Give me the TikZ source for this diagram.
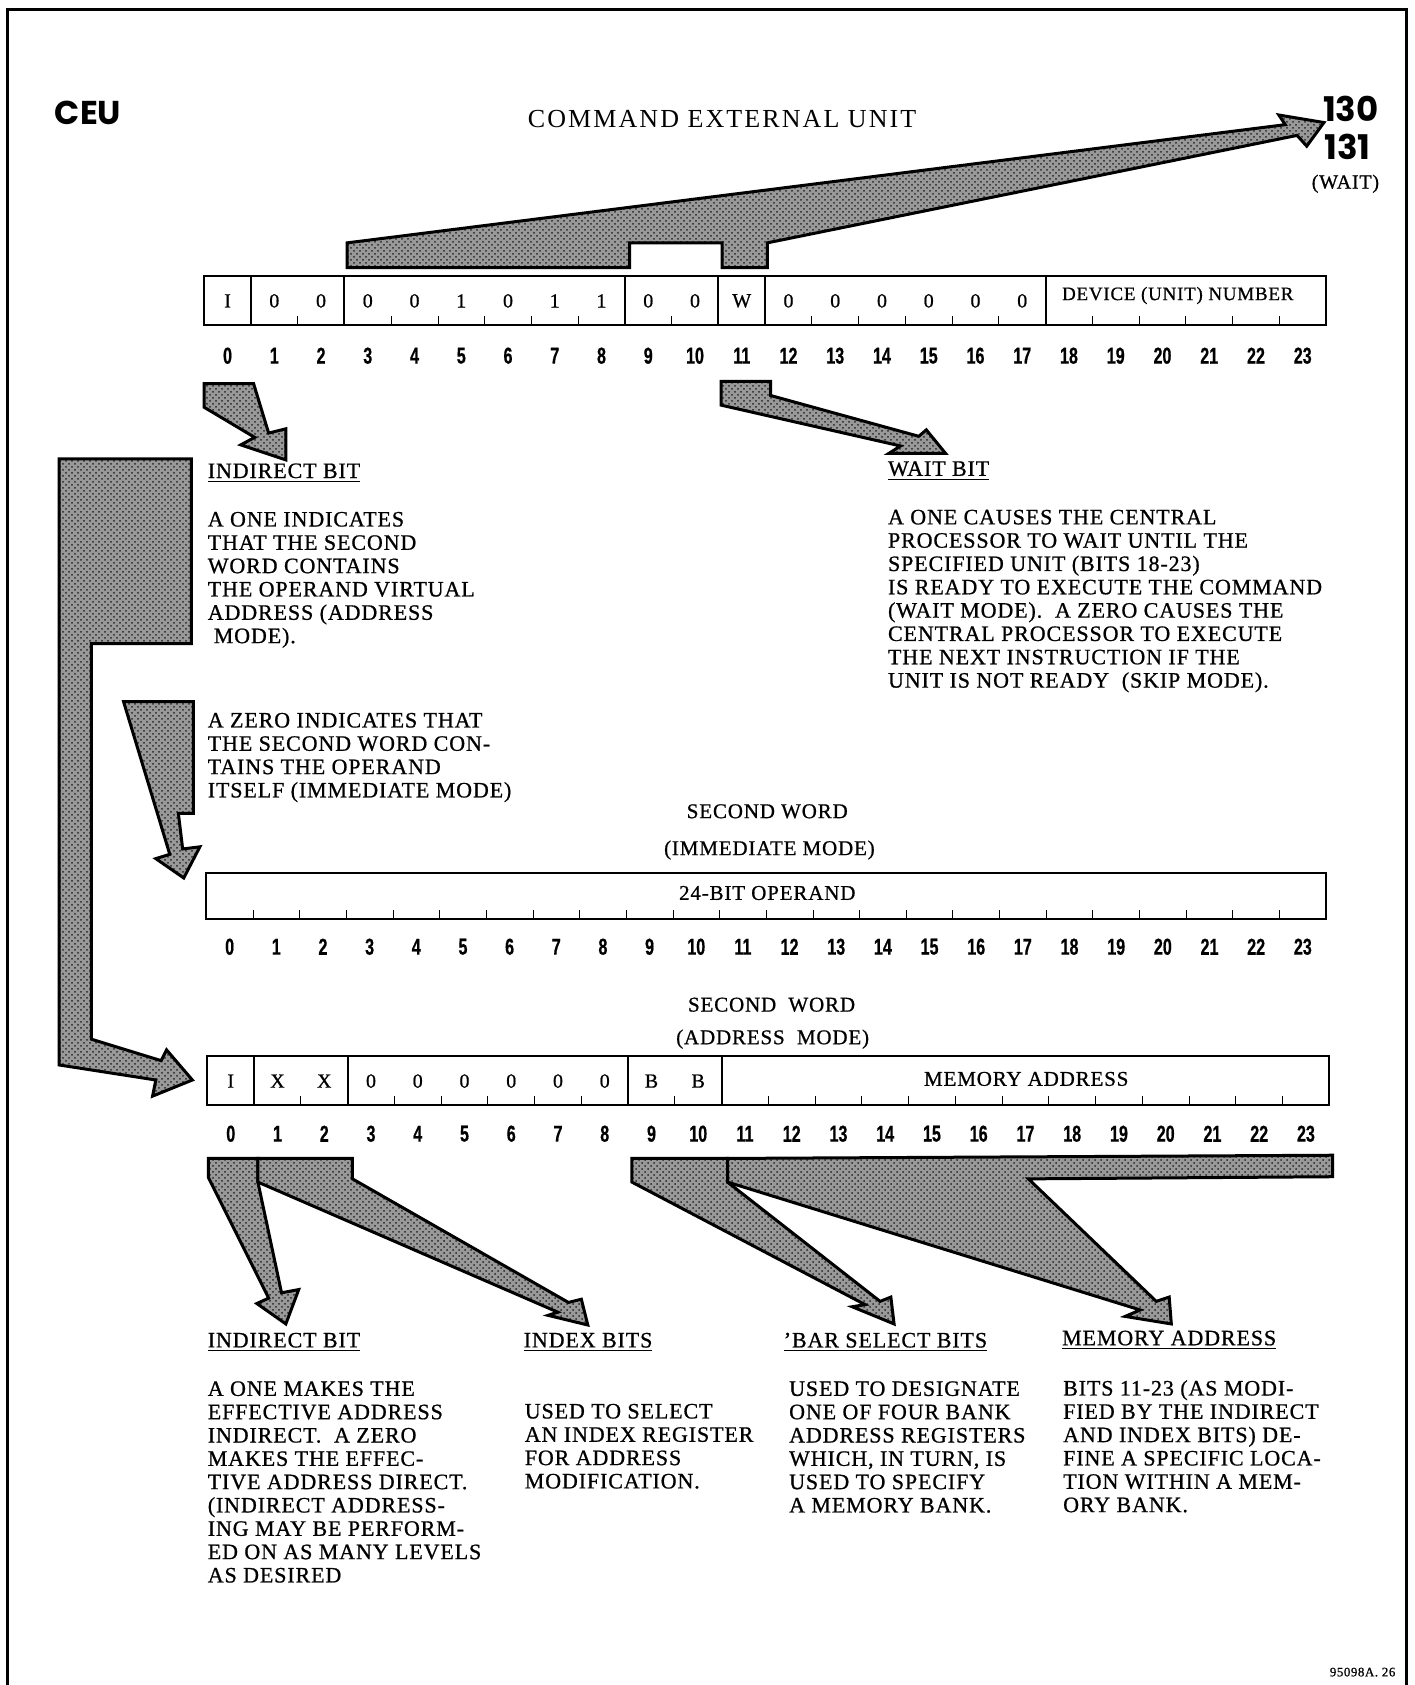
\documentclass[tikz,border=0pt]{standalone}
\usepackage{fontspec}
\setmainfont{Liberation Serif}[LetterSpace=4,FakeBold=0.8]
\newfontfamily\titlefont{Liberation Serif}[LetterSpace=8]
\newfontfamily\numfont{Liberation Sans Bold}[FakeStretch=0.7,FakeBold=0.6]
\newfontfamily\headfont{Poppins}
\usetikzlibrary{patterns}

\begin{document}
\begin{tikzpicture}[x=0.5373pt,y=-0.5373pt,
  wordbox/.style={draw,line width=1pt},
  bitval/.style={font=\fontsize{10}{12}\selectfont,inner sep=0pt},
  bitnum/.style={font=\numfont\fontsize{11.5}{12}\selectfont,inner sep=0pt},
  fieldtext/.style={font=\fontsize{9.5}{11}\selectfont,inner sep=0pt},
  caption/.style={font=\fontsize{10.5}{12}\selectfont,inner sep=0pt},
  heading/.style={font=\fontsize{11}{12}\selectfont,anchor=west,inner sep=0pt},
  para/.style={font=\fontsize{11}{11.66}\selectfont,align=left,anchor=north west,inner sep=0pt},
  fatarrow/.style={draw,line width=1.5pt,line join=miter,preaction={fill=black!40},pattern=crosshatch dots,pattern color=black!85}]
\useasboundingbox (0,0) rectangle (1316,1568);
\draw[line width=1.5pt] (7,1570) -- (7,9) -- (1309,9) -- (1309,1570);

\node[font=\headfont\bfseries\fontsize{16.5}{18}\selectfont] (ceu) at (82,105) {CEU};
\node[font=\titlefont\fontsize{13}{15}\selectfont] (title) at (672,111) {COMMAND EXTERNAL UNIT};
\node[font=\headfont\bfseries\fontsize{17}{18}\selectfont,inner sep=0pt] (opa) at (1257,101) {130};
\node[font=\headfont\bfseries\fontsize{17}{18}\selectfont,inner sep=0pt] (opb) at (1254,137) {131};
\node[font=\fontsize{10}{12}\selectfont,inner sep=0pt] (waitop) at (1252,171) {(WAIT)};

% first word
\def\cw{43.5}
\draw[wordbox] (190,257) rectangle (1234,302);
\foreach \k in {1,3,9,11,12,18}
  \draw[wordbox] ({190+\k*\cw},257) -- ({190+\k*\cw},302);
\foreach \k in {2,4,5,6,7,8,10,13,14,15,16,17,19,20,21,22,23}
  \draw ({190+\k*\cw},302) -- ++(0,-8);
\foreach \v [count=\i from 0] in {I,0,0,0,0,1,0,1,1,0,0,W,0,0,0,0,0,0}
  \node[bitval] (wa\i) at ({190+(\i+0.5)*\cw},280) {\v};
\node[fieldtext] (device) at (1096,275) {DEVICE (UNIT) NUMBER};
\foreach \i in {0,...,23}
  \node[bitnum] (na\i) at ({190+(\i+0.5)*\cw},331) {\i};

% second word, immediate
\def\cwb{43.42}
\node[caption] (swa) at (714,755) {SECOND WORD};
\node[caption] (imm) at (716,791) {(IMMEDIATE MODE)};
\draw[wordbox] (192,812) rectangle (1234,855);
\foreach \k in {1,...,23}
  \draw ({192+\k*\cwb},855) -- ++(0,-8);
\node[caption] (operand) at (714,831) {24-BIT OPERAND};
\foreach \i in {0,...,23}
  \node[bitnum] (nb\i) at ({192+(\i+0.5)*\cwb},881) {\i};

% second word, address
\node[caption] (swb) at (718,935) {SECOND~~WORD};
\node[caption] (adm) at (719,967) {(ADDRESS~~MODE)};
\draw[wordbox] (193,983) rectangle (1237,1028);
\foreach \k in {1,3,9,11}
  \draw[wordbox] ({193+\k*\cw},983) -- ({193+\k*\cw},1028);
\foreach \k in {2,4,5,6,7,8,10,12,13,...,23}
  \draw ({193+\k*\cw},1028) -- ++(0,-8);
\foreach \v [count=\i from 0] in {I,X,X,0,0,0,0,0,0,B,B}
  \node[bitval] (wc\i) at ({193+(\i+0.5)*\cw},1006) {\v};
\node[caption] (memaddr) at (955,1004) {MEMORY ADDRESS};
\foreach \i in {0,...,23}
  \node[bitnum] (nc\i) at ({193+(\i+0.5)*\cw},1055) {\i};

% arrows
\draw[fatarrow] (323,249) -- (323,226) -- (1196,116) -- (1190,107) -- (1232,114) -- (1216,136) -- (1207,126) -- (714,226) -- (714,249) -- (672,249) -- (672,226) -- (586,226) -- (586,249) -- cycle;
\draw[fatarrow] (190,357) -- (236,357) -- (250,403) -- (266,399) -- (266,428) -- (224,414) -- (237,407) -- (190,379) -- cycle;
\draw[fatarrow] (671,355) -- (717,355) -- (717,368) -- (855,406) -- (862,400) -- (880,422) -- (827,422) -- (838,415) -- (671,377) -- cycle;
\draw[fatarrow] (55,427) -- (178,427) -- (178,599) -- (85,599) -- (85,967) -- (150,987) -- (155,977) -- (179,1005) -- (142,1020) -- (145,1005) -- (55,991) -- cycle;
\draw[fatarrow] (115,653) -- (180,653) -- (180,757) -- (166,757) -- (170,790) -- (186,788) -- (171,817) -- (145,799) -- (158,795) -- cycle;
\draw[fatarrow] (194,1078) -- (240,1078) -- (240,1100) -- (262,1203) -- (278,1200) -- (266,1232) -- (239,1213) -- (250,1208) -- (194,1096) -- cycle;
\draw[fatarrow] (240,1078) -- (328,1078) -- (328,1097) -- (529,1212) -- (541,1209) -- (547,1233) -- (510,1224) -- (519,1221) -- (240,1100) -- cycle;
\draw[fatarrow] (588,1078) -- (677,1078) -- (677,1100) -- (819,1211) -- (829,1207) -- (832,1232) -- (793,1216) -- (805,1214) -- (588,1100) -- cycle;
\draw[fatarrow] (677,1078) -- (1240,1075) -- (1240,1095) -- (957,1097) -- (1076,1211) -- (1088,1207) -- (1090,1232) -- (1047,1225) -- (1061,1219) -- (677,1100) -- cycle;

% notes, first word
\node[heading] (indhead) at (193,440) {\underline{INDIRECT BIT}};
\node[para] (indone) at (193,476) {A ONE INDICATES\\THAT THE SECOND\\WORD CONTAINS\\THE OPERAND VIRTUAL\\ADDRESS (ADDRESS\\\hspace{3pt}MODE).};
\node[para] (indzero) at (193,663) {A ZERO INDICATES THAT\\THE SECOND WORD CON-\\TAINS THE OPERAND\\ITSELF (IMMEDIATE MODE)};
\node[heading] (waithead) at (826,438) {\underline{WAIT BIT}};
\node[para] (waittext) at (826,474) {A ONE CAUSES THE CENTRAL\\PROCESSOR TO WAIT UNTIL THE\\SPECIFIED UNIT (BITS 18-23)\\IS READY TO EXECUTE THE COMMAND\\(WAIT MODE).~~A ZERO CAUSES THE\\CENTRAL PROCESSOR TO EXECUTE\\THE NEXT INSTRUCTION IF THE\\UNIT IS NOT READY~~(SKIP MODE).};

% notes, address word
\node[heading] (ihead) at (193,1249) {\underline{INDIRECT BIT}};
\node[heading] (xhead) at (487,1249) {\underline{INDEX BITS}};
\node[heading] (bhead) at (729,1249) {\underline{'BAR SELECT BITS}};
\node[heading] (mhead) at (988,1247) {\underline{MEMORY ADDRESS}};
\node[para] (itext) at (193,1285) {A ONE MAKES THE\\EFFECTIVE ADDRESS\\INDIRECT.~~A ZERO\\MAKES THE EFFEC-\\TIVE ADDRESS DIRECT.\\(INDIRECT ADDRESS-\\ING MAY BE PERFORM-\\ED ON AS MANY LEVELS\\AS DESIRED};
\node[para] (xtext) at (488,1306) {USED TO SELECT\\AN INDEX REGISTER\\FOR ADDRESS\\MODIFICATION.};
\node[para] (btext) at (734,1285) {USED TO DESIGNATE\\ONE OF FOUR BANK\\ADDRESS REGISTERS\\WHICH, IN TURN, IS\\USED TO SPECIFY\\A MEMORY BANK.};
\node[para] (mtext) at (989,1284) {BITS 11-23 (AS MODI-\\FIED BY THE INDIRECT\\AND INDEX BITS) DE-\\FINE A SPECIFIC LOCA-\\TION WITHIN A MEM-\\ORY BANK.};

\node[font=\fontsize{6.5}{8}\selectfont,inner sep=0pt] (figno) at (1268,1556) {95098A. 26};
\end{tikzpicture}
\end{document}
